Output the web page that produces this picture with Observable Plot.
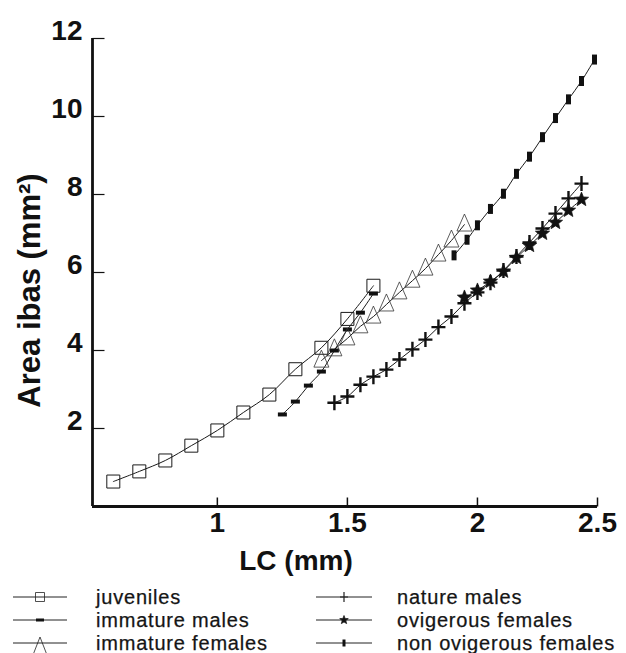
<!DOCTYPE html>
<html>
<head>
<meta charset="utf-8">
<script src="https://cdn.jsdelivr.net/npm/d3@7"></script>
<script src="https://cdn.jsdelivr.net/npm/@observablehq/plot@0.6"></script>
<style>
  html, body { margin: 0; padding: 0; background: #fff; }
  #chart { position: relative; width: 626px; height: 653px; overflow: hidden; font-family: "Liberation Sans", Arial, sans-serif; color: #111; }
  .lg-text { position: absolute; font-size: 20px; line-height: 22px; height: 22px; letter-spacing: 0.8px; white-space: nowrap; color: #151515; -webkit-text-stroke: 0.25px #151515; }
</style>
</head>
<body>
<div id="chart"></div>
<script>
// ---------- tick labels ----------
const xTicks = [1, 1.5, 2, 2.5];
const xTickLabels = ["1", "1.5", "2", "2.5"];
const yTicks = [2, 4, 6, 8, 10, 12];
const yTickLabels = ["2", "4", "6", "8", "10", "12"];
const xTitle = "LC (mm)";
const yTitle = "Area ibas (mm²)";

// ---------- series (LC in mm, area in mm²) ----------
const seriesNames = ["juveniles", "immature males", "immature females",
                     "nature males", "ovigerous females", "non ovigerous females"];

const juvenilesLC   = [0.6, 0.7, 0.8, 0.9, 1.0, 1.1, 1.2, 1.3, 1.4, 1.5, 1.6];
const juvenilesArea = [0.64, 0.90, 1.18, 1.56, 1.95, 2.41, 2.87, 3.52, 4.07, 4.81, 5.66];

const immMalesLC   = [1.25, 1.3, 1.35, 1.4, 1.45, 1.5, 1.55, 1.6];
const immMalesArea = [2.36, 2.69, 3.10, 3.46, 4.00, 4.54, 4.97, 5.46];

const immFemalesLC   = [1.4, 1.45, 1.5, 1.55, 1.6, 1.65, 1.7, 1.75, 1.8, 1.85, 1.9, 1.95];
const immFemalesArea = [3.74, 4.03, 4.31, 4.62, 4.87, 5.18, 5.49, 5.79, 6.10, 6.46, 6.82, 7.23];

const natMalesLC   = [1.45, 1.5, 1.55, 1.6, 1.65, 1.7, 1.75, 1.8, 1.85, 1.9,
                      1.95, 2.0, 2.05, 2.1, 2.15, 2.2, 2.25, 2.3, 2.35, 2.4];
const natMalesArea = [2.66, 2.82, 3.12, 3.33, 3.51, 3.77, 4.03, 4.28, 4.60, 4.87,
                      5.21, 5.49, 5.74, 6.05, 6.41, 6.77, 7.13, 7.51, 7.90, 8.28];

const ovigLC   = [1.95, 2.0, 2.05, 2.1, 2.15, 2.2, 2.25, 2.3, 2.35, 2.4];
const ovigArea = [5.36, 5.54, 5.77, 6.03, 6.38, 6.69, 7.00, 7.28, 7.59, 7.87];

const nonOvigLC   = [1.91, 1.96, 2.0, 2.05, 2.1, 2.15, 2.2, 2.25, 2.3, 2.35, 2.4, 2.45];
const nonOvigArea = [6.44, 6.84, 7.21, 7.63, 8.02, 8.53, 8.97, 9.47, 9.96, 10.44, 10.91, 11.46];

const seriesLC   = [juvenilesLC, immMalesLC, immFemalesLC, natMalesLC, ovigLC, nonOvigLC];
const seriesArea = [juvenilesArea, immMalesArea, immFemalesArea, natMalesArea, ovigArea, nonOvigArea];

const rows = [];
seriesNames.forEach((name, s) => {
  seriesLC[s].forEach((lc, i) => rows.push({series: name, lc, area: seriesArea[s][i]}));
});

// ---------- custom marker shapes ----------
function starPath(c, R, r) {
  for (let k = 0; k < 10; k++) {
    const a = -Math.PI / 2 + k * Math.PI / 5;
    const rad = k % 2 ? r : R;
    const px = rad * Math.cos(a), py = rad * Math.sin(a);
    k ? c.lineTo(px, py) : c.moveTo(px, py);
  }
  c.closePath();
}
const chartSymbols = {
  "juveniles":             {draw(c) { c.rect(-6.5, -6.5, 13, 13); }},
  "immature males":        {draw(c) { c.rect(-4.5, -2, 9, 4); }},
  "immature females":      {draw(c) { c.moveTo(0, -10.5); c.lineTo(7.5, 6.5); c.lineTo(-7.5, 6.5); c.closePath(); }},
  "nature males":          {draw(c) { c.moveTo(-7, 0); c.lineTo(7, 0); c.moveTo(0, -7.5); c.lineTo(0, 7.5); }},
  "ovigerous females":     {draw(c) { starPath(c, 7.5, 3.3); }},
  "non ovigerous females": {draw(c) { c.rect(-2.5, -5, 5, 10); }}
};
const legendSymbols = {
  "juveniles":             {draw(c) { c.rect(-4.5, -4.5, 9, 9); }},
  "immature males":        {draw(c) { c.rect(-4, -1.5, 8, 3); }},
  "immature females":      {draw(c) { c.moveTo(0, -6); c.lineTo(7, 12); c.lineTo(-7, 12); c.closePath(); }},
  "nature males":          {draw(c) { c.moveTo(-4, 0); c.lineTo(4, 0); c.moveTo(0, -5); c.lineTo(0, 5); }},
  "ovigerous females":     {draw(c) { starPath(c, 4.5, 1.9); }},
  "non ovigerous females": {draw(c) { c.rect(-1.5, -3.5, 3, 7); }}
};
const symbolStyle = {
  "juveniles":             {fill: "none", stroke: "#1a1a1a", strokeWidth: 1},
  "immature males":        {fill: "#111", stroke: "none", strokeWidth: 0},
  "immature females":      {fill: "none", stroke: "#333", strokeWidth: 0.8},
  "nature males":          {fill: "none", stroke: "#111", strokeWidth: 2.4},
  "ovigerous females":     {fill: "#111", stroke: "#111", strokeWidth: 0.7},
  "non ovigerous females": {fill: "#111", stroke: "none", strokeWidth: 0}
};

const tickRight = {draw(c) { c.moveTo(0, 0); c.lineTo(12, 0); }};
const tickUp    = {draw(c) { c.moveTo(0, 0); c.lineTo(0, -9); }};

// ---------- plot ----------
const W = 626, H = 585;
const xDomain = [0.52, 2.45, 2.5];
const xRange = [92, 594, 597];
const yTop = 38, yBottom = 506;
const font = "'Liberation Sans', Arial, Helvetica, sans-serif";

const marks = [
  Plot.line(rows, {x: "lc", y: "area", z: "series", curve: "catmull-rom", stroke: "#1a1a1a", strokeWidth: 1}),
  ...seriesNames.map(name => Plot.dot(rows.filter(d => d.series === name), {
    x: "lc", y: "area", r: 3, symbol: chartSymbols[name], ...symbolStyle[name]
  })),
  Plot.ruleX([xDomain[0]], {stroke: "#111", strokeWidth: 2.8}),
  Plot.ruleY([0], {stroke: "#111", strokeWidth: 2.8}),
  Plot.dot(yTicks, {y: d => d, frameAnchor: "left", symbol: tickRight, r: 3, stroke: "#111", strokeWidth: 1.2}),
  Plot.dot(xTicks, {x: d => d, frameAnchor: "bottom", symbol: tickUp, r: 3, stroke: "#111", strokeWidth: 1.5}),
  Plot.text(yTicks, {y: d => d, text: (d, i) => yTickLabels[i], frameAnchor: "left", textAnchor: "end",
    dx: -10, dy: -7, fontSize: 28, fontWeight: "bold", fill: "#111"}),
  Plot.text(xTicks, {x: d => d, text: (d, i) => xTickLabels[i], frameAnchor: "bottom",
    dy: 25, fontSize: 28, fontWeight: "bold", fill: "#111"}),
  Plot.text([xTitle], {frameAnchor: "bottom", dx: -49, dy: 63, fontSize: 28, fontWeight: "bold", fill: "#111"}),
  Plot.text([yTitle], {frameAnchor: "left", textAnchor: "middle", rotate: -90, dx: -62, dy: 18,
    fontSize: 31, fontWeight: "bold", fill: "#111"})
];

const svg = Plot.plot({
  width: W, height: H,
  marginLeft: xRange[0], marginRight: W - xRange[2], marginTop: yTop, marginBottom: H - yBottom,
  x: {type: "linear", domain: xDomain, range: xRange, axis: null},
  y: {type: "linear", domain: [0, 12], range: [yBottom, yTop], axis: null},
  style: {fontFamily: font, background: "#fff", color: "#111", overflow: "visible"},
  marks
});
const chart = document.getElementById("chart");
chart.appendChild(svg);

// ---------- legend (below the SVG) ----------
const legendRowsY = [597, 620, 643];
const legendCols = [{line: [13, 67], text: 96}, {line: [316, 372], text: 397}];
seriesNames.forEach((name, i) => {
  const col = legendCols[Math.floor(i / 3)];
  const cy = legendRowsY[i % 3];
  const sw = col.line[1] - col.line[0];
  const ns = "http://www.w3.org/2000/svg";
  const s = document.createElementNS(ns, "svg");
  s.setAttribute("width", sw + 4);
  s.setAttribute("height", 30);
  s.style.position = "absolute";
  s.style.left = (col.line[0] - 2) + "px";
  s.style.top = (cy - 12) + "px";
  s.style.overflow = "visible";
  const mid = (sw + 4) / 2;
  const ln = document.createElementNS(ns, "line");
  ln.setAttribute("x1", 2); ln.setAttribute("x2", sw + 2);
  ln.setAttribute("y1", 12); ln.setAttribute("y2", 12);
  ln.setAttribute("stroke", "#222"); ln.setAttribute("stroke-width", 1);
  s.appendChild(ln);
  const p = d3.path();
  legendSymbols[name].draw(p);
  const st = symbolStyle[name];
  const path = document.createElementNS(ns, "path");
  path.setAttribute("d", p.toString());
  path.setAttribute("transform", `translate(${mid},12)`);
  path.setAttribute("fill", st.fill);
  path.setAttribute("stroke", st.stroke === "none" ? "none" : "#222");
  path.setAttribute("stroke-width", name === "nature males" ? 1.2 : 0.8);
  s.appendChild(path);
  chart.appendChild(s);
  const t = document.createElement("div");
  t.className = "lg-text";
  t.textContent = name;
  t.style.left = col.text + "px";
  t.style.top = (cy - 11) + "px";
  chart.appendChild(t);
});
</script>
</body>
</html>
